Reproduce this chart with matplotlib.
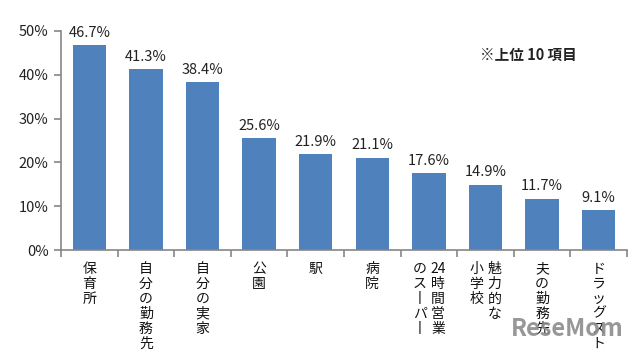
import re
import matplotlib
matplotlib.use("Agg")
import matplotlib.pyplot as plt
import matplotlib.transforms as mtransforms

plt.rcParams['font.family'] = ['Noto Sans CJK JP', 'DejaVu Sans']

# data (percent)
cats = ["保育所", "自分の勤務先", "自分の実家", "公園", "駅", "病院",
        "24時間営業\nのスーパー", "魅力的な\n小学校", "夫の勤務先", "ドラッグストア"]
vals = [46.7, 41.3, 38.4, 25.6, 21.9, 21.1, 17.6, 14.9, 11.7, 9.1]
yticks = [0, 10, 20, 30, 40, 50]
note = "※上位 10 項目"

bar_col = '#4F81BD'
axis_col = '#868686'

fig = plt.figure(figsize=(6.4, 3.52), dpi=100)
ax = fig.add_axes([61/640, 1-250/352, (627-61)/640, (250-31)/352])

x = list(range(len(vals)))
ax.bar(x, vals, width=0.59, color=bar_col, zorder=2)

for xi, v in zip(x, vals):
    ax.text(xi, v + 1.2, f"{v:.1f}%", ha='center', va='bottom', fontsize=10.5, color='#222222')

ax.set_xlim(-0.5, len(vals) - 0.5)
ax.set_ylim(0, 50)
ax.set_yticks(yticks)
ax.set_yticklabels([f"{t}%" for t in yticks], fontsize=10.5, color='#222222')
ax.set_xticks([i - 0.5 for i in range(len(vals) + 1)])
ax.set_xticklabels([])
ax.tick_params(axis='both', direction='out', length=5, color=axis_col, width=1.2)
ax.tick_params(axis='y', pad=4)

for s in ['top', 'right']:
    ax.spines[s].set_visible(False)
for s in ['left', 'bottom']:
    ax.spines[s].set_color(axis_col)
    ax.spines[s].set_linewidth(1.2)

# vertical japanese labels, columns go right to left, digits stay together
trans = mtransforms.blended_transform_factory(ax.transData, fig.transFigure)
col_gap = 0.32
for xi, lab in zip(x, cats):
    cols = lab.split("\n")
    n = len(cols)
    for k, col in enumerate(cols):
        off = (n - 1) / 2 * col_gap - k * col_gap
        tokens = re.findall(r"[0-9]+|.", col.replace("ー", "丨"))
        txt = "\n".join(tokens)
        ax.text(xi + off, 1 - 262/352, txt, transform=trans, ha='center', va='top',
                fontsize=10, linespacing=1.08, color='#111111', clip_on=False)

ax.text(528/640, 1 - 55/352, note, transform=fig.transFigure, ha='center', va='center',
        fontsize=10.5, fontweight='bold', color='#222222')

# site watermark
fig.text(0.975, 0.03, "ReseMom", ha='right', va='bottom', fontsize=17, fontweight='bold',
         color='#8c8c8c', alpha=0.9)

fig.savefig("out.png", dpi=100)
